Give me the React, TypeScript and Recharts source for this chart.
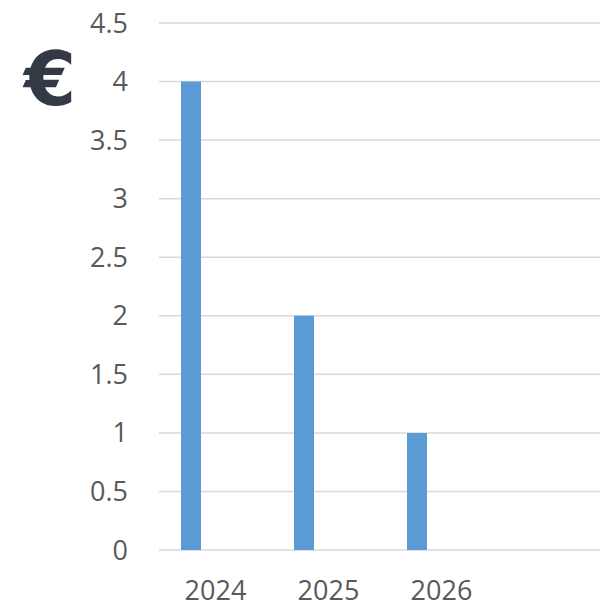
import { BarChart, Bar, XAxis, YAxis, CartesianGrid } from "recharts"

const years = ["2024", "2025", "2026"]
const amounts = [4, 2, 1]
// second series of the source chart is empty, it only takes room next to the blue bar
const emptySeries = [null, null, null]
const yTicks = [0, 0.5, 1, 1.5, 2, 2.5, 3, 3.5, 4, 4.5]

const data = years.map((year, i) => ({ year, amount: amounts[i], other: emptySeries[i] }))

const tickStyle = { fill: "#595959", fontSize: 27, fontFamily: "'Open Sans', sans-serif" }

export default function App() {
  return (
    <div style={{ position: "absolute", left: 0, top: 0, width: 600, height: 603, overflow: "hidden", background: "#fff" }}>
      <BarChart
        width={600}
        height={603}
        data={data}
        margin={{ top: 23, right: 0, left: 0, bottom: 0 }}
        barSize={20}
        barGap={30}
      >
        <CartesianGrid vertical={false} stroke="#d9d9d9" strokeWidth={1.5} />
        <XAxis
          dataKey="year"
          axisLine={false}
          tickLine={false}
          tickSize={0}
          tickMargin={31}
          height={53}
          padding={{ left: 0, right: 102 }}
          tick={tickStyle}
        />
        <YAxis
          domain={[0, 4.5]}
          ticks={yTicks}
          axisLine={false}
          tickLine={false}
          tickSize={0}
          tickMargin={31}
          width={159}
          tick={tickStyle}
        />
        <Bar dataKey="amount" fill="#5b9bd5" isAnimationActive={false} />
        <Bar dataKey="other" fill="#ed7d31" isAnimationActive={false} />
      </BarChart>
      <div
        style={{
          position: "absolute",
          left: 24,
          top: 35,
          fontFamily: "'DejaVu Sans', sans-serif",
          fontWeight: "bold",
          fontSize: 75,
          lineHeight: "88px",
          color: "#343a44",
        }}
      >
        €
      </div>
    </div>
  )
}
